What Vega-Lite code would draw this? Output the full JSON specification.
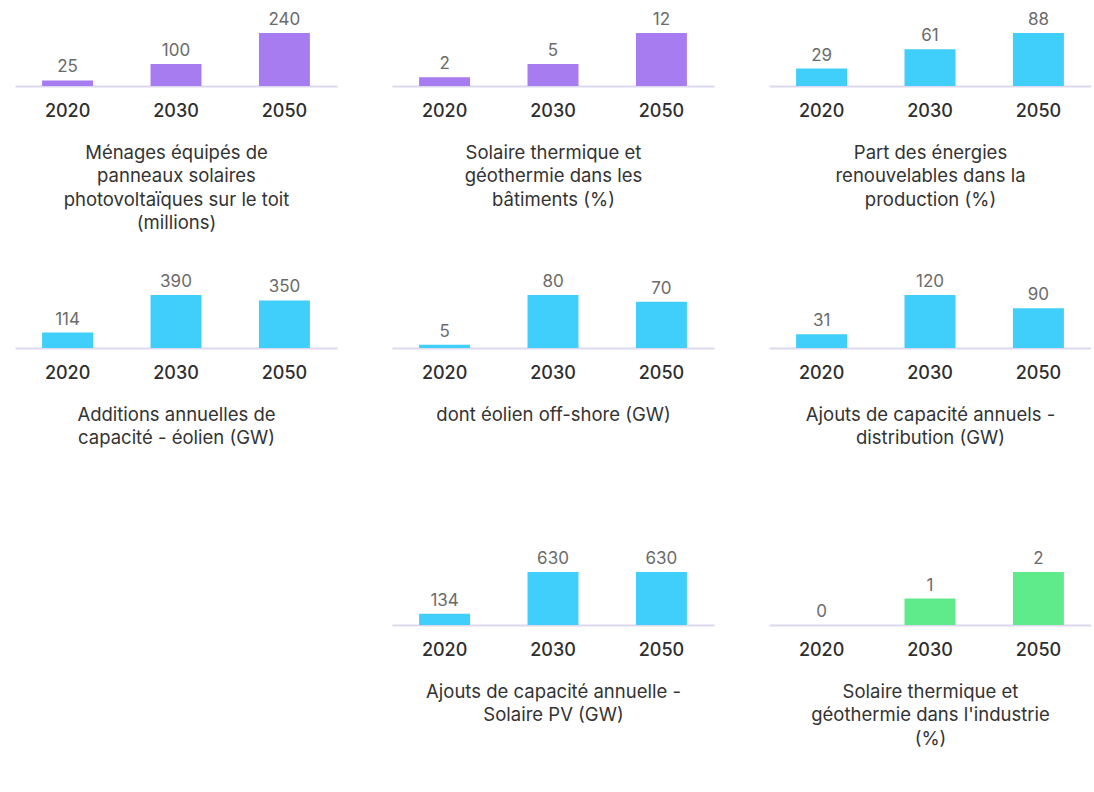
{
  "$schema": "https://vega.github.io/schema/vega-lite/v6.json",
  "background": "white",
  "padding": {"left": 15, "top": 11, "right": 0, "bottom": 0},
  "data": {"values": [
    {"panel": 1, "year": "2020", "value": 25},
    {"panel": 1, "year": "2030", "value": 100},
    {"panel": 1, "year": "2050", "value": 240},
    {"panel": 2, "year": "2020", "value": 2},
    {"panel": 2, "year": "2030", "value": 5},
    {"panel": 2, "year": "2050", "value": 12},
    {"panel": 3, "year": "2020", "value": 29},
    {"panel": 3, "year": "2030", "value": 61},
    {"panel": 3, "year": "2050", "value": 88},
    {"panel": 4, "year": "2020", "value": 114},
    {"panel": 4, "year": "2030", "value": 390},
    {"panel": 4, "year": "2050", "value": 350},
    {"panel": 5, "year": "2020", "value": 5},
    {"panel": 5, "year": "2030", "value": 80},
    {"panel": 5, "year": "2050", "value": 70},
    {"panel": 6, "year": "2020", "value": 31},
    {"panel": 6, "year": "2030", "value": 120},
    {"panel": 6, "year": "2050", "value": 90},
    {"panel": 8, "year": "2020", "value": 134},
    {"panel": 8, "year": "2030", "value": 630},
    {"panel": 8, "year": "2050", "value": 630},
    {"panel": 9, "year": "2020", "value": 0},
    {"panel": 9, "year": "2030", "value": 1},
    {"panel": 9, "year": "2050", "value": 2}
  ]},
  "config": {
    "view": {"stroke": null},
    "font": "Inter",
    "axis": {
      "domainColor": "#dcd8ee",
      "domainWidth": 2,
      "ticks": false,
      "grid": false,
      "labelFont": "Inter",
      "labelFontSize": 18,
      "labelFontWeight": 500,
      "labelColor": "#2e2e2e",
      "labelPadding": 16,
      "labelAngle": 0,
      "titleFont": "Inter",
      "titleFontSize": 18.5,
      "titleFontWeight": 400,
      "titleColor": "#333333",
      "titleLineHeight": 23.5,
      "titlePadding": 23
    }
  },
  "spacing": 103,
  "vconcat": [
    {
      "spacing": 41,
      "vconcat": [
        {
          "spacing": 55,
          "hconcat": [
            {
              "width": 322, "height": 53,
              "transform": [{"filter": "datum.panel == 1"}],
              "encoding": {
                "x": {"field": "year", "type": "nominal", "sort": null, "scale": {"paddingInner": 0.53, "paddingOuter": 0.25}, "axis": {"title": ["Ménages équipés de", "panneaux solaires", "photovoltaïques sur le toit", "(millions)"]}},
                "y": {"field": "value", "type": "quantitative", "axis": null, "scale": {"nice": false, "zero": true}}
              },
              "layer": [
                {"mark": {"type": "bar", "color": "#a67cf0"}},
                {"mark": {"type": "text", "baseline": "bottom", "dy": -4, "fontSize": 17, "color": "#6b6b6b"}, "encoding": {"text": {"field": "value"}}}
              ]
            },
            {
              "width": 322, "height": 53,
              "transform": [{"filter": "datum.panel == 2"}],
              "encoding": {
                "x": {"field": "year", "type": "nominal", "sort": null, "scale": {"paddingInner": 0.53, "paddingOuter": 0.25}, "axis": {"title": ["Solaire thermique et", "géothermie dans les", "bâtiments (%)"]}},
                "y": {"field": "value", "type": "quantitative", "axis": null, "scale": {"nice": false, "zero": true}}
              },
              "layer": [
                {"mark": {"type": "bar", "color": "#a67cf0"}},
                {"mark": {"type": "text", "baseline": "bottom", "dy": -4, "fontSize": 17, "color": "#6b6b6b"}, "encoding": {"text": {"field": "value"}}}
              ]
            },
            {
              "width": 322, "height": 53,
              "transform": [{"filter": "datum.panel == 3"}],
              "encoding": {
                "x": {"field": "year", "type": "nominal", "sort": null, "scale": {"paddingInner": 0.53, "paddingOuter": 0.25}, "axis": {"title": ["Part des énergies", "renouvelables dans la", "production (%)"]}},
                "y": {"field": "value", "type": "quantitative", "axis": null, "scale": {"nice": false, "zero": true}}
              },
              "layer": [
                {"mark": {"type": "bar", "color": "#40cefa"}},
                {"mark": {"type": "text", "baseline": "bottom", "dy": -4, "fontSize": 17, "color": "#6b6b6b"}, "encoding": {"text": {"field": "value"}}}
              ]
            }
          ]
        },
        {
          "spacing": 55,
          "hconcat": [
            {
              "width": 322, "height": 53,
              "transform": [{"filter": "datum.panel == 4"}],
              "encoding": {
                "x": {"field": "year", "type": "nominal", "sort": null, "scale": {"paddingInner": 0.53, "paddingOuter": 0.25}, "axis": {"title": ["Additions annuelles de", "capacité - éolien (GW)"]}},
                "y": {"field": "value", "type": "quantitative", "axis": null, "scale": {"nice": false, "zero": true}}
              },
              "layer": [
                {"mark": {"type": "bar", "color": "#40cefa"}},
                {"mark": {"type": "text", "baseline": "bottom", "dy": -4, "fontSize": 17, "color": "#6b6b6b"}, "encoding": {"text": {"field": "value"}}}
              ]
            },
            {
              "width": 322, "height": 53,
              "transform": [{"filter": "datum.panel == 5"}],
              "encoding": {
                "x": {"field": "year", "type": "nominal", "sort": null, "scale": {"paddingInner": 0.53, "paddingOuter": 0.25}, "axis": {"title": "dont éolien off-shore (GW)"}},
                "y": {"field": "value", "type": "quantitative", "axis": null, "scale": {"nice": false, "zero": true}}
              },
              "layer": [
                {"mark": {"type": "bar", "color": "#40cefa"}},
                {"mark": {"type": "text", "baseline": "bottom", "dy": -4, "fontSize": 17, "color": "#6b6b6b"}, "encoding": {"text": {"field": "value"}}}
              ]
            },
            {
              "width": 322, "height": 53,
              "transform": [{"filter": "datum.panel == 6"}],
              "encoding": {
                "x": {"field": "year", "type": "nominal", "sort": null, "scale": {"paddingInner": 0.53, "paddingOuter": 0.25}, "axis": {"title": ["Ajouts de capacité annuels -", "distribution (GW)"]}},
                "y": {"field": "value", "type": "quantitative", "axis": null, "scale": {"nice": false, "zero": true}}
              },
              "layer": [
                {"mark": {"type": "bar", "color": "#40cefa"}},
                {"mark": {"type": "text", "baseline": "bottom", "dy": -4, "fontSize": 17, "color": "#6b6b6b"}, "encoding": {"text": {"field": "value"}}}
              ]
            }
          ]
        }
      ]
    },
    {
      "spacing": 55,
      "hconcat": [
        {
          "width": 322, "height": 53,
          "transform": [{"filter": "datum.panel == 7"}],
          "mark": {"type": "bar", "opacity": 0},
          "encoding": {
            "x": {"field": "year", "type": "nominal", "axis": null},
            "y": {"field": "value", "type": "quantitative", "axis": null}
          }
        },
        {
          "width": 322, "height": 53,
          "transform": [{"filter": "datum.panel == 8"}],
          "encoding": {
            "x": {"field": "year", "type": "nominal", "sort": null, "scale": {"paddingInner": 0.53, "paddingOuter": 0.25}, "axis": {"title": ["Ajouts de capacité annuelle -", "Solaire PV (GW)"]}},
            "y": {"field": "value", "type": "quantitative", "axis": null, "scale": {"nice": false, "zero": true}}
          },
          "layer": [
            {"mark": {"type": "bar", "color": "#40cefa"}},
            {"mark": {"type": "text", "baseline": "bottom", "dy": -4, "fontSize": 17, "color": "#6b6b6b"}, "encoding": {"text": {"field": "value"}}}
          ]
        },
        {
          "width": 322, "height": 53,
          "transform": [{"filter": "datum.panel == 9"}],
          "encoding": {
            "x": {"field": "year", "type": "nominal", "sort": null, "scale": {"paddingInner": 0.53, "paddingOuter": 0.25}, "axis": {"title": ["Solaire thermique et", "géothermie dans l'industrie", "(%)"]}},
            "y": {"field": "value", "type": "quantitative", "axis": null, "scale": {"nice": false, "zero": true}}
          },
          "layer": [
            {"mark": {"type": "bar", "color": "#5fea8c"}},
            {"mark": {"type": "text", "baseline": "bottom", "dy": -4, "fontSize": 17, "color": "#6b6b6b"}, "encoding": {"text": {"field": "value"}}}
          ]
        }
      ]
    }
  ]
}
